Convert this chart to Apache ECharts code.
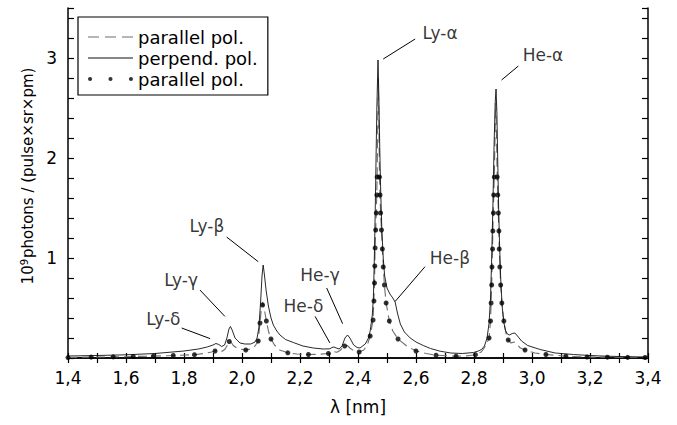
<!DOCTYPE html>
<html>
<head>
<meta charset="utf-8">
<title>Polarised line spectra</title>
<script src="https://cdn.jsdelivr.net/npm/echarts@6/dist/echarts.min.js"></script>
<style>
  html, body { margin: 0; padding: 0; background: #fff; }
  #chart { width: 677px; height: 425px; }
</style>
</head>
<body>
<div id="chart"></div>
<script>
// wavelength [nm], intensity [1e9 photons / (pulse x sr x pm)]
var perpendCurve = [
    [1.40, 0.02], [1.50, 0.025], [1.60, 0.032], [1.70, 0.045], [1.80, 0.07], [1.85, 0.09],
    [1.88, 0.11], [1.90, 0.13], [1.91, 0.145], [1.92, 0.135], [1.93, 0.115], [1.94, 0.13],
    [1.948, 0.2], [1.955, 0.29], [1.96, 0.315], [1.966, 0.28], [1.976, 0.2], [1.993, 0.15],
    [2.01, 0.14], [2.03, 0.14], [2.045, 0.16], [2.052, 0.2], [2.058, 0.3], [2.064, 0.55],
    [2.069, 0.82], [2.073, 0.93], [2.077, 0.84], [2.083, 0.68], [2.091, 0.52], [2.10, 0.4],
    [2.108, 0.33], [2.12, 0.27], [2.131, 0.23], [2.15, 0.185], [2.177, 0.155], [2.21, 0.12],
    [2.246, 0.1], [2.28, 0.09], [2.303, 0.092], [2.31, 0.105], [2.317, 0.11], [2.325, 0.1],
    [2.335, 0.09], [2.345, 0.12], [2.355, 0.2], [2.364, 0.23], [2.372, 0.2], [2.385, 0.13],
    [2.397, 0.105], [2.407, 0.1], [2.425, 0.14], [2.436, 0.2], [2.442, 0.27], [2.449, 0.42],
    [2.453, 0.6], [2.456, 0.95], [2.459, 1.4], [2.462, 1.95], [2.465, 2.5], [2.469, 2.98],
    [2.472, 2.6], [2.475, 2.1], [2.478, 1.7], [2.482, 1.3], [2.487, 1.0], [2.492, 0.82],
    [2.50, 0.7], [2.51, 0.64], [2.52, 0.6], [2.528, 0.56], [2.536, 0.45], [2.546, 0.34],
    [2.56, 0.26], [2.58, 0.2], [2.60, 0.16], [2.625, 0.125], [2.65, 0.095], [2.683, 0.068],
    [2.72, 0.05], [2.76, 0.045], [2.798, 0.055], [2.815, 0.07], [2.826, 0.085], [2.836, 0.12],
    [2.845, 0.2], [2.852, 0.35], [2.857, 0.6], [2.861, 1.0], [2.865, 1.5], [2.869, 2.1],
    [2.873, 2.55], [2.876, 2.69], [2.879, 2.45], [2.882, 1.95], [2.885, 1.5], [2.888, 1.15],
    [2.892, 0.8], [2.897, 0.52], [2.902, 0.37], [2.908, 0.28], [2.915, 0.24], [2.922, 0.23],
    [2.932, 0.245], [2.941, 0.25], [2.95, 0.22], [2.964, 0.17], [2.985, 0.125], [3.028, 0.085],
    [3.08, 0.05], [3.143, 0.035], [3.20, 0.025], [3.257, 0.018], [3.33, 0.013], [3.40, 0.01]
];

var parallelCurve = [
    [1.40, 0.004], [1.48, 0.009], [1.556, 0.011], [1.625, 0.015], [1.694, 0.019], [1.763, 0.025],
    [1.836, 0.033], [1.87, 0.045], [1.895, 0.06], [1.907, 0.07], [1.915, 0.08], [1.922, 0.075],
    [1.932, 0.068], [1.942, 0.09], [1.95, 0.13], [1.956, 0.165], [1.962, 0.16], [1.97, 0.125],
    [1.982, 0.1], [1.995, 0.088], [2.013, 0.08], [2.03, 0.09], [2.045, 0.12], [2.056, 0.17],
    [2.062, 0.35], [2.067, 0.5], [2.071, 0.56], [2.075, 0.52], [2.084, 0.37], [2.092, 0.26],
    [2.10, 0.19], [2.112, 0.13], [2.13, 0.08], [2.158, 0.052], [2.19, 0.04], [2.229, 0.035],
    [2.265, 0.037], [2.298, 0.045], [2.31, 0.058], [2.318, 0.062], [2.327, 0.058], [2.338, 0.075],
    [2.348, 0.105], [2.356, 0.125], [2.363, 0.125], [2.372, 0.1], [2.385, 0.072], [2.404, 0.06],
    [2.42, 0.08], [2.432, 0.13], [2.442, 0.22], [2.452, 0.38], [2.457, 0.75], [2.459, 1.1],
    [2.463, 1.45], [2.466, 1.81], [2.468, 2.3], [2.470, 2.8], [2.472, 2.35], [2.474, 1.81],
    [2.478, 1.45], [2.484, 1.09], [2.491, 0.73], [2.497, 0.55], [2.508, 0.37], [2.52, 0.27],
    [2.538, 0.19], [2.568, 0.12], [2.60, 0.07], [2.635, 0.045], [2.669, 0.028], [2.738, 0.018],
    [2.78, 0.022], [2.805, 0.033], [2.825, 0.06], [2.84, 0.12], [2.852, 0.2], [2.857, 0.37],
    [2.861, 0.73], [2.865, 1.27], [2.868, 1.63], [2.870, 1.81], [2.873, 2.3], [2.875, 2.55],
    [2.877, 2.3], [2.880, 1.81], [2.884, 1.45], [2.887, 1.09], [2.892, 0.73], [2.896, 0.55],
    [2.903, 0.37], [2.91, 0.25], [2.918, 0.18], [2.928, 0.15], [2.938, 0.16], [2.948, 0.135],
    [2.96, 0.1], [2.976, 0.08], [3.01, 0.05], [3.048, 0.035], [3.117, 0.018], [3.19, 0.01],
    [3.26, 0.008], [3.33, 0.006], [3.40, 0.005]
];

var parallelDots = [
    [1.40, 0.004], [1.48, 0.009], [1.556, 0.011], [1.625, 0.015], [1.694, 0.019], [1.763, 0.025],
    [1.836, 0.033], [1.907, 0.07], [1.956, 0.165], [2.013, 0.08], [2.056, 0.17], [2.062, 0.35],
    [2.071, 0.53], [2.084, 0.37], [2.10, 0.19], [2.158, 0.052], [2.229, 0.035], [2.298, 0.045],
    [2.354, 0.12], [2.404, 0.06], [2.442, 0.22], [2.452, 0.38], [2.455, 0.57], [2.457, 0.75],
    [2.458, 0.92], [2.459, 1.10], [2.461, 1.28], [2.463, 1.45], [2.465, 1.63], [2.466, 1.81],
    [2.474, 1.81], [2.476, 1.63], [2.478, 1.45], [2.481, 1.28], [2.484, 1.09], [2.487, 0.91],
    [2.491, 0.73], [2.497, 0.55], [2.508, 0.37], [2.538, 0.19], [2.60, 0.07], [2.669, 0.028],
    [2.738, 0.018], [2.805, 0.033], [2.852, 0.20], [2.857, 0.37], [2.859, 0.55], [2.861, 0.73],
    [2.862, 0.91], [2.864, 1.09], [2.865, 1.27], [2.867, 1.45], [2.868, 1.63], [2.870, 1.81],
    [2.880, 1.81], [2.882, 1.63], [2.884, 1.45], [2.886, 1.27], [2.887, 1.09], [2.889, 0.91],
    [2.892, 0.73], [2.896, 0.55], [2.903, 0.37], [2.918, 0.18], [2.976, 0.08], [3.048, 0.035],
    [3.117, 0.018], [3.19, 0.01], [3.26, 0.008], [3.33, 0.006], [3.39, 0.005]
];

// line labels: text, label centre, pointer start, pointer end
var lineNames = ['Ly-\u03b1', 'He-\u03b1', 'Ly-\u03b2', 'Ly-\u03b3', 'Ly-\u03b4', 'He-\u03b4', 'He-\u03b3', 'He-\u03b2'];
var labelAt = [[2.683, 3.25], [3.038, 3.03], [1.879, 1.32], [1.79, 0.78], [1.729, 0.388], [2.212, 0.517], [2.269, 0.826], [2.717, 1.005]];
var pointerFrom = [[2.597, 3.19], [2.953, 2.92], [1.947, 1.21], [1.855, 0.68], [1.792, 0.30], [2.252, 0.416], [2.292, 0.70], [2.631, 0.913]];
var pointerTo = [[2.487, 2.99], [2.895, 2.78], [2.056, 0.963], [1.941, 0.416], [1.89, 0.194], [2.303, 0.151], [2.347, 0.343], [2.528, 0.565]];

var xMin = 1.4, xMax = 3.4, xStep = 0.1;
var yMin = 0, yMax = 3.5, yStep = 0.2;
var legendNames = ['parallel pol.', 'perpend. pol.', 'parallel pol. '];

var font = 'DejaVu Sans, sans-serif';
var myChart = echarts.init(document.getElementById('chart'), null, {renderer: 'svg'});

var labelData = lineNames.map(function (n, i) {
    return {name: n, value: labelAt[i]};
});
var pointerData = lineNames.map(function (n, i) {
    return [{coord: pointerFrom[i]}, {coord: pointerTo[i]}];
});

var frameLine = {lineStyle: {color: '#000', width: 1.5}};
var xTicks = {inside: true, length: 5, lineStyle: {color: '#000', width: 1.2}};
var yTicks = {inside: true, length: 6, lineStyle: {color: '#000', width: 1.2}};

var option = {
    animation: false,
    backgroundColor: '#fff',
    textStyle: {fontFamily: font},
    grid: {left: 68, right: 29, top: 8, bottom: 67},
    legend: {
        data: [
            {name: legendNames[0], icon: 'path://M0,0h11v1.2h-11zM17,0h11v1.2h-11zM34,0h11v1.2h-11z'},
            {name: legendNames[1], icon: 'path://M0,0h45v1h-45z'},
            {name: legendNames[2], icon: 'path://M0,2a2,2 0 1,0 4,0a2,2 0 1,0 -4,0zM20,2a2,2 0 1,0 4,0a2,2 0 1,0 -4,0zM40,2a2,2 0 1,0 4,0a2,2 0 1,0 -4,0z'}
        ],
        formatter: function (name) { return name.trim(); },
        orient: 'vertical',
        left: 78,
        top: 17,
        padding: [11, 10, 7, 10],
        itemGap: 3,
        itemWidth: 45,
        itemHeight: 15,
        itemTextGap: 12,
        borderColor: '#000',
        borderWidth: 1.2,
        borderRadius: 0,
        textStyle: {fontSize: 18, color: '#000', fontFamily: font},
        selectedMode: false
    },
    xAxis: [{
        type: 'value',
        min: xMin, max: xMax, interval: xStep,
        name: '\u03bb [nm]',
        nameLocation: 'middle',
        nameGap: 40,
        nameTextStyle: {fontSize: 17, color: '#000', fontFamily: font},
        axisLine: frameLine,
        axisTick: xTicks,
        splitLine: {show: false},
        axisLabel: {
            margin: 11,
            fontSize: 17,
            color: '#000',
            fontFamily: font,
            formatter: function (v) {
                if (Math.round(v * 10) % 2 !== 0) return '';
                return v.toFixed(1).replace('.', ',');
            }
        }
    }, {
        type: 'value', position: 'top',
        min: xMin, max: xMax, interval: xStep,
        axisLine: frameLine,
        axisTick: xTicks,
        axisLabel: {show: false},
        splitLine: {show: false}
    }],
    yAxis: [{
        type: 'value',
        min: yMin, max: yMax, interval: yStep,
        name: '10{sup|9}photons / (pulse\u00d7sr\u00d7pm)',
        nameLocation: 'middle',
        nameGap: 27,
        nameTextStyle: {
            fontSize: 15, color: '#000', fontFamily: font,
            padding: [0, 0, 0, 14],
            rich: {sup: {fontSize: 10, verticalAlign: 'top', color: '#000', fontFamily: font, padding: [0, 1, 7, 0]}}
        },
        axisLine: frameLine,
        axisTick: yTicks,
        splitLine: {show: false},
        axisLabel: {
            margin: 11,
            fontSize: 17,
            color: '#000',
            fontFamily: font,
            formatter: function (v) {
                var r = Math.round(v);
                return (r > 0 && Math.abs(v - r) < 1e-6) ? String(r) : '';
            }
        }
    }, {
        type: 'value', position: 'right',
        min: yMin, max: yMax, interval: yStep,
        axisLine: frameLine,
        axisTick: yTicks,
        axisLabel: {show: false},
        splitLine: {show: false}
    }],
    series: [
        {
            name: legendNames[0],
            type: 'line',
            data: parallelCurve,
            showSymbol: false,
            symbol: 'none',
            lineStyle: {color: '#6e6e6e', width: 1.1, type: [9, 5]},
            itemStyle: {color: '#6e6e6e'},
            z: 2
        },
        {
            name: legendNames[1],
            type: 'line',
            data: perpendCurve,
            showSymbol: false,
            symbol: 'none',
            lineStyle: {color: '#111', width: 0.9},
            itemStyle: {color: '#111'},
            z: 3
        },
        {
            name: legendNames[2],
            type: 'scatter',
            data: parallelDots,
            symbol: 'circle',
            symbolSize: 5,
            itemStyle: {color: '#000'},
            z: 4
        },
        {
            name: 'labels',
            type: 'scatter',
            data: labelData,
            symbolSize: 1,
            itemStyle: {color: 'rgba(0,0,0,0)'},
            label: {
                show: true,
                position: 'inside',
                formatter: '{b}',
                fontSize: 17,
                color: '#000',
                fontFamily: font
            },
            markLine: {
                silent: true,
                symbol: ['none', 'none'],
                label: {show: false},
                lineStyle: {color: '#000', width: 1, type: 'solid'},
                data: pointerData
            },
            z: 5
        }
    ]
};
myChart.setOption(option);
</script>
</body>
</html>
